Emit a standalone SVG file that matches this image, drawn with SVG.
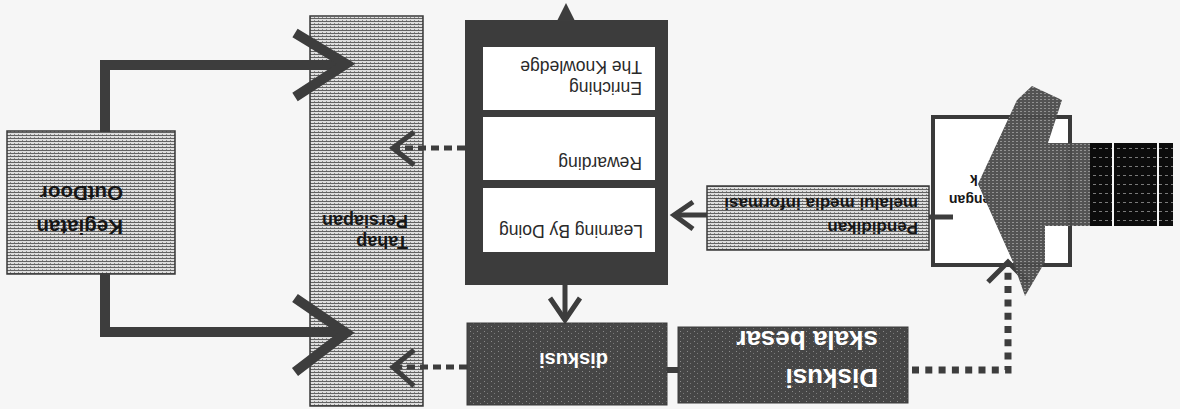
<svg xmlns="http://www.w3.org/2000/svg" width="1180" height="409" viewBox="0 0 1180 409">
<style>
.lt{fill:url(#hatchLight);stroke:#3a3a3a;stroke-width:1.5}
.dk{fill:url(#speck);stroke:#3a3a3a;stroke-width:1}
.tb{font-family:"Liberation Sans",Arial,sans-serif;font-weight:bold;fill:#161616}
.tw{font-family:"Liberation Sans",Arial,sans-serif;font-weight:bold;fill:#ffffff}
.tr{font-family:"Liberation Sans",Arial,sans-serif;fill:#2a2a2a;font-size:17.5px}
.thick{fill:none;stroke:#3d3d3d;stroke-width:10;stroke-linejoin:miter;stroke-linecap:butt}
.med{fill:none;stroke:#3d3d3d;stroke-width:5}
.dash{fill:none;stroke:#3d3d3d;stroke-width:5;stroke-dasharray:8 5}
.dot{fill:none;stroke:#3d3d3d;stroke-width:7;stroke-dasharray:7 6.3}
</style>
<defs>
<pattern id="hatchLight" width="4" height="3" patternUnits="userSpaceOnUse">
<rect width="4" height="3" fill="#dedede"/><rect width="4" height="1" fill="#626262"/><rect x="2" y="2" width="1" height="1" fill="#8a8a8a"/>
</pattern>
<pattern id="speck" width="7" height="5" patternUnits="userSpaceOnUse">
<rect width="7" height="5" fill="#464646"/><rect x="1" y="1" width="1" height="1" fill="#8a8a8a"/><rect x="4" y="3" width="1" height="1" fill="#7a7a7a"/>
</pattern>
<pattern id="bigHatch" width="4" height="3" patternUnits="userSpaceOnUse">
<rect width="4" height="3" fill="#4a4a4a"/><rect width="2" height="1" fill="#8c8c8c"/>
</pattern>
<pattern id="blackHatch" width="6" height="9" patternUnits="userSpaceOnUse">
<rect width="6" height="9" fill="#0c0c0c"/><rect x="1" y="4" width="3" height="1" fill="#7a7a7a"/>
</pattern>
</defs>
<rect width="1180" height="409" fill="#f6f6f6"/>

<g id="kegiatan">
<rect class="lt" x="7" y="131" width="168" height="143"/>
<text class="tb" font-size="20.5" x="123" y="220" transform="rotate(180 123 220)">Kegiatan</text>
<text class="tb" font-size="20.5" x="123" y="186" transform="rotate(180 123 186)">OutDoor</text>
</g>

<g id="tahap">
<rect class="lt" x="310" y="16" width="113" height="390"/>
<text class="tb" font-size="18" x="408" y="236" transform="rotate(180 408 236)">Tahap</text>
<text class="tb" font-size="18" x="408" y="215" transform="rotate(180 408 215)">Persiapan</text>
</g>

<g id="tahapan">
<rect x="465" y="20" width="203" height="265" fill="#3c3c3c"/>
<rect x="483" y="47" width="172" height="63" fill="#ffffff"/>
<rect x="483" y="117" width="172" height="63" fill="#ffffff"/>
<rect x="483" y="188" width="172" height="64" fill="#ffffff"/>
<text class="tr" x="642" y="82" transform="rotate(180 642 82)">Enriching</text>
<text class="tr" x="642" y="61" transform="rotate(180 642 61)">The Knowledge</text>
<text class="tr" x="642" y="157" transform="rotate(180 642 157)">Rewarding</text>
<text class="tr" x="643" y="225" transform="rotate(180 643 225)">Learning By Doing</text>
</g>

<g id="diskusi">
<rect class="dk" x="467" y="323" width="200" height="82"/>
<text class="tw" font-size="20" x="608" y="353" transform="rotate(180 608 353)">diskusi</text>
</g>

<g id="diskusi-besar">
<rect class="dk" x="678" y="327" width="230" height="76"/>
<text class="tw" font-size="26" x="878" y="369" transform="rotate(180 878 369)">Diskusi</text>
<text class="tw" font-size="26" x="878" y="331" transform="rotate(180 878 331)">skala besar</text>
</g>

<g id="pendidikan">
<rect class="lt" x="707" y="186" width="222" height="64"/>
<text class="tb" font-size="17" x="918" y="222" transform="rotate(180 918 222)">Pendidikan</text>
<text class="tb" font-size="17" x="918" y="198" transform="rotate(180 918 198)">melalui media informasi</text>
</g>

<g id="pengenalan">
<rect x="933" y="117" width="137" height="148" fill="#ffffff" stroke="#3a3a3a" stroke-width="4"/>
<text class="tb" font-size="14" x="949" y="195" text-anchor="end" transform="rotate(180 949 195)">engan</text>
<text class="tb" font-size="14" x="970" y="175" text-anchor="end" transform="rotate(180 970 175)">k</text>
</g>

<g id="connectors">
<polyline class="thick" points="105,132 105,65 342,65"/>
<polyline class="thick" points="295,33 346,64 295,97"/>
<polyline class="thick" points="105,273 105,332 342,332"/>
<polyline class="thick" points="295,298 346,333 295,372"/>
<line class="dash" x1="465" y1="148" x2="397" y2="148"/>
<polyline class="med" points="414,132 393,148 414,165" stroke-width="6"/>
<line class="dash" x1="467" y1="367" x2="397" y2="367"/>
<polyline class="med" points="414,350 393,367 414,386" stroke-width="6"/>
<line class="med" x1="565" y1="285" x2="565" y2="320"/>
<polyline class="med" points="550,298 565,320 580,298"/>
<polygon points="557,21 566,3 575,21" fill="#3d3d3d"/>
<line class="med" x1="707" y1="215" x2="675" y2="215"/>
<polyline class="med" points="693,202 674,215 693,229"/>
<line class="med" x1="929" y1="217" x2="953" y2="217"/>
<line x1="667" y1="370" x2="678" y2="370" stroke="#3d3d3d" stroke-width="6"/>
<polyline class="dot" points="912,370 1008,370 1008,272"/>
<polyline class="med" points="988,282 1008,262 1028,282" stroke-width="7"/>
</g>

<g id="big-arrow">
<polygon points="1032,86 1062,100 1048,143 1090,143 1090,226 1045,226 1045,262 1025,296 1013,262 978,184 1017,100" fill="url(#bigHatch)" opacity="0.95"/>
<rect x="1090" y="143" width="22" height="83" fill="url(#blackHatch)"/>
<rect x="1114" y="143" width="43" height="83" fill="url(#blackHatch)"/>
<rect x="1159" y="143" width="14" height="83" fill="url(#blackHatch)"/>
</g>
</svg>
